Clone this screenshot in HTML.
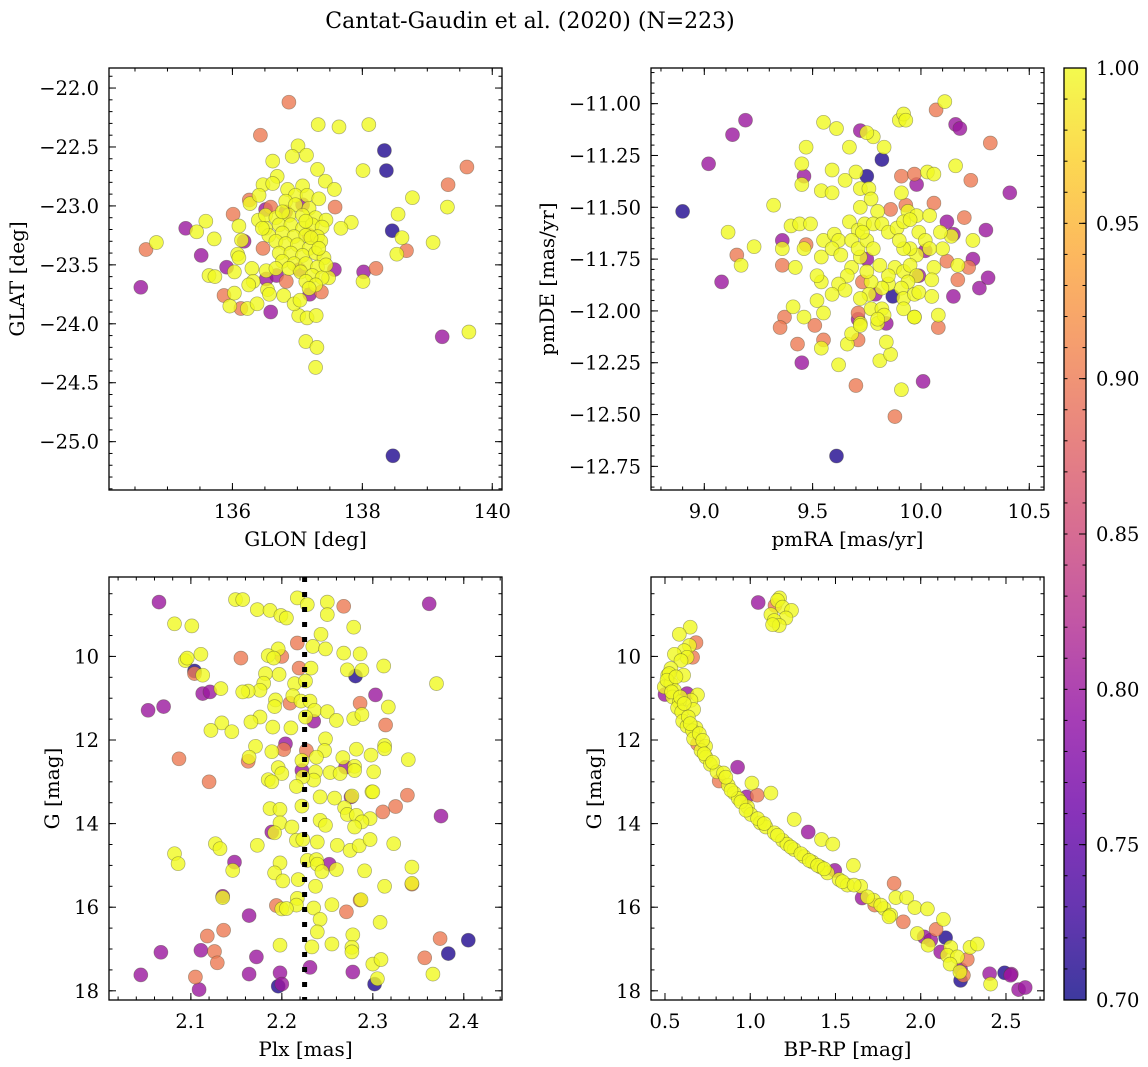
<!DOCTYPE html>
<html><head><meta charset="utf-8"><title>Cantat-Gaudin et al. (2020)</title>
<style>
html,body{margin:0;padding:0;background:#fff;}
svg{display:block;font-family:"DejaVu Serif","Liberation Serif",serif;}
</style></head>
<body>
<svg id="chart" width="1148" height="1067" viewBox="0 0 1148 1067" xmlns="http://www.w3.org/2000/svg">
<defs>
<linearGradient id="plasma" x1="0" y1="1" x2="0" y2="0">
<stop offset="0" stop-color="#0d0887"/><stop offset="0.1" stop-color="#41049d"/><stop offset="0.2" stop-color="#6a00a8"/><stop offset="0.3" stop-color="#8f0da4"/><stop offset="0.4" stop-color="#b12a90"/><stop offset="0.5" stop-color="#cc4778"/><stop offset="0.6" stop-color="#e16462"/><stop offset="0.7" stop-color="#f2844b"/><stop offset="0.8" stop-color="#fca636"/><stop offset="0.9" stop-color="#fcce25"/><stop offset="1" stop-color="#f0f921"/>
</linearGradient>
</defs>
<text x="530" y="28" font-size="22" text-anchor="middle">Cantat-Gaudin et al. (2020) (N=223)</text>
</svg>
<script>
// ---------- Panel 1: GLON / GLAT ----------
const p1Lon=[136.87,137.32,137.64,138.10,136.43,138.34,138.37,139.61,139.32,138.01,138.77,139.31,138.55,138.46,138.61,139.09,138.68,138.53,138.21,138.02,138.01,134.67,134.83,135.28,135.59,135.45,135.52,135.72,134.59,139.23,139.64,138.47,137.13,137.30,137.28,136.59,136.01,135.91,135.87,135.64,135.73,135.96,136.13,136.23,136.38,136.03,137.19,137.37,137.02,137.15,137.29,136.79,136.95,137.04,137.57,137.48,137.58,137.83,137.67,137.43,137.57,137.31,137.01,137.14,136.92,136.62,136.69,136.47,136.62,136.26,136.27,136.41,136.59,136.40,136.10,136.18,136.14,136.08,136.10,136.03,136.30,136.32,136.25,136.47,136.52,136.68,136.52,136.54,136.57,136.83,137.08,136.51,136.82,137.18,137.03,
136.85,137.08,136.97,137.15,137.33,136.82,136.97,137.18,136.51,136.67,136.87,137.08,137.28,137.44,136.51,136.72,136.90,137.08,137.23,137.38,136.56,136.77,136.95,137.13,137.31,136.67,136.82,137.00,137.18,137.36,136.72,136.90,137.08,137.28,137.41,136.77,136.95,137.13,137.31,136.67,136.87,137.05,137.23,137.38,137.13,137.28,136.46,136.77,137.21,137.13,137.33,137.44,137.18];
const p1Lat=[-22.12,-22.31,-22.33,-22.31,-22.40,-22.53,-22.70,-22.67,-22.82,-22.70,-22.93,-23.01,-23.07,-23.21,-23.27,-23.31,-23.38,-23.41,-23.53,-23.56,-23.64,-23.37,-23.31,-23.19,-23.13,-23.22,-23.42,-23.28,-23.69,-24.11,-24.07,-25.12,-24.15,-24.20,-24.37,-23.90,-23.07,-23.52,-23.76,-23.59,-23.60,-23.85,-23.87,-23.87,-23.83,-23.74,-23.75,-23.73,-23.93,-23.95,-23.93,-23.76,-23.83,-23.80,-23.54,-23.61,-23.01,-23.14,-23.19,-22.79,-22.86,-22.69,-22.49,-22.57,-22.58,-22.62,-22.75,-22.82,-22.81,-22.95,-22.98,-22.91,-23.01,-23.12,-23.17,-23.30,-23.29,-23.41,-23.44,-23.56,-23.53,-23.64,-23.67,-23.36,-23.62,-23.59,-23.55,-23.71,-23.75,-23.64,-22.99,-23.03,-23.05,-23.25,-23.54,
-22.86,-22.83,-22.91,-22.91,-22.94,-22.96,-22.99,-23.02,-23.08,-23.10,-23.08,-23.08,-23.10,-23.12,-23.19,-23.16,-23.16,-23.19,-23.16,-23.18,-23.25,-23.23,-23.26,-23.25,-23.26,-23.30,-23.32,-23.33,-23.36,-23.30,-23.40,-23.40,-23.42,-23.40,-23.44,-23.47,-23.49,-23.49,-23.52,-23.53,-23.53,-23.56,-23.59,-23.61,-23.64,-23.67,-23.19,-23.05,-23.27,-23.13,-23.36,-23.50,-23.70];
const p1Prob=[0.9,1,1,1,0.9,0.71,0.71,0.9,0.9,1,1,1,1,0.71,1,1,0.9,1,0.9,0.8,1,0.9,1,0.8,1,1,0.8,1,0.8,0.8,1,0.71,1,1,1,0.8,0.9,0.8,0.9,1,1,1,0.9,1,1,1,0.8,0.9,1,1,1,1,1,1,0.8,1,0.9,1,1,1,1,1,1,1,1,1,1,1,1,0.9,1,1,0.9,1,1,0.8,1,1,1,1,1,1,1,0.9,0.8,0.8,1,1,1,0.9,0.8,0.8,0.8,0.9,0.8,
1,1,1,1,1,1,1,1,1,1,1,1,1,1,1,1,1,1,1,1,1,1,1,1,1,1,1,1,1,1,1,1,1,1,1,1,1,1,1,1,1,1,1,1,1,1,1,1,1,1,1,1,1];
const p1XTicks=[136,138,140];
const p1YTicks=[-22.0,-22.5,-23.0,-23.5,-24.0,-24.5,-25.0];

// ---------- Panel 2: pmRA / pmDE ----------
const p2Ra=[8.90,9.02,9.13,9.19,9.08,9.11,9.15,9.17,9.23,9.32,9.36,9.36,9.36,9.42,9.40,9.44,9.49,9.47,9.46,9.41,9.37,9.35,9.46,9.51,9.43,9.45,9.55,9.54,9.62,9.70,9.61,9.88,9.91,10.01,9.81,9.86,9.84,9.66,9.68,9.71,9.71,9.72,9.80,9.84,9.97,10.08,10.08,10.15,10.17,10.27,10.31,10.22,10.24,10.24,10.30,10.20,10.12,10.15,10.14,10.09,10.10,10.12,10.17,10.41,10.23,10.16,10.06,10.03,10.06,10.32,10.16,10.18,10.07,10.11,9.90,9.92,9.93,9.82,9.83,9.78,9.75,9.72,9.67,9.55,9.61,9.47,9.45,9.46,9.45,9.59,9.65,9.70,9.75,9.54,9.59,9.72,9.76,9.77,9.72,9.86,9.91,9.97,9.98,9.91,9.93,9.80,9.94,9.98,10.04,9.87,
9.67,9.71,9.74,9.78,9.82,9.85,9.89,9.92,9.95,9.99,10.02,10.04,10.06,10.05,9.98,9.95,9.92,9.90,9.88,9.92,9.95,9.98,9.94,9.91,9.92,9.97,9.99,10.05,9.92,9.97,9.85,9.85,9.82,9.77,9.76,9.72,9.77,9.82,9.83,9.80,9.72,9.75,9.68,9.66,9.62,9.65,9.59,9.52,9.55,9.54,9.52,9.54,9.55,9.60,9.62,9.59,9.63,9.72,9.68,9.71,9.75,9.78,9.81,9.73,
9.75,9.73,9.79,9.99,10.02,9.71];
const p2De=[-11.52,-11.29,-11.15,-11.08,-11.86,-11.62,-11.73,-11.78,-11.69,-11.49,-11.66,-11.70,-11.78,-11.79,-11.59,-11.58,-11.58,-11.68,-11.70,-11.98,-12.03,-12.08,-12.03,-12.07,-12.16,-12.25,-12.14,-12.18,-12.26,-12.36,-12.70,-12.51,-12.38,-12.34,-12.24,-12.21,-12.15,-12.16,-12.11,-12.14,-12.01,-12.06,-12.06,-12.06,-12.03,-12.02,-12.08,-11.93,-11.85,-11.89,-11.84,-11.79,-11.75,-11.66,-11.61,-11.55,-11.57,-11.63,-11.64,-11.62,-11.70,-11.76,-11.78,-11.43,-11.37,-11.30,-11.48,-11.33,-11.34,-11.19,-11.10,-11.12,-11.03,-10.99,-11.08,-11.05,-11.08,-11.27,-11.21,-11.16,-11.14,-11.13,-11.21,-11.09,-11.12,-11.21,-11.29,-11.35,-11.39,-11.32,-11.37,-11.33,-11.35,-11.42,-11.43,-11.41,-11.41,-11.46,-11.50,-11.51,-11.35,-11.34,-11.39,-11.43,-11.49,-11.52,-11.52,-11.54,-11.54,-11.93,
-11.57,-11.61,-11.58,-11.58,-11.58,-11.62,-11.60,-11.57,-11.56,-11.62,-11.66,-11.70,-11.79,-11.85,-11.73,-11.70,-11.70,-11.66,-11.79,-11.81,-11.78,-11.83,-11.86,-11.89,-11.94,-11.92,-11.91,-11.93,-11.99,-12.03,-11.87,-11.83,-11.89,-11.86,-11.92,-11.94,-11.99,-11.99,-12.02,-12.04,-12.07,-11.81,-11.79,-11.83,-11.87,-11.90,-11.92,-11.95,-12.01,-11.86,-11.83,-11.74,-11.66,-11.63,-11.66,-11.70,-11.73,-11.74,-11.66,-11.70,-11.66,-11.70,-11.78,-11.62,
-11.75,-11.86,-11.92,-11.83,-11.71,-12.04];
const p2Prob=[0.71,0.8,0.8,0.8,0.8,1,0.9,1,1,1,0.8,1,0.9,1,1,1,1,0.9,1,1,0.9,0.9,1,0.9,0.9,0.8,0.9,1,1,0.9,0.71,0.9,1,0.8,1,1,1,1,1,0.9,0.9,1,1,0.8,1,1,0.9,0.8,0.9,0.8,0.8,0.9,0.8,1,0.8,0.9,0.8,0.8,1,1,1,0.9,1,0.8,0.9,1,0.9,1,1,0.9,0.8,0.8,0.9,1,1,1,1,0.71,1,1,1,0.8,1,1,1,1,1,0.8,1,1,1,1,0.71,1,1,1,1,1,1,0.9,0.9,0.9,0.8,1,0.9,1,1,1,1,0.71,
1,1,1,1,1,1,1,1,1,1,1,1,1,1,1,1,1,1,1,1,1,1,1,1,1,1,1,1,1,1,1,1,1,1,1,1,1,1,1,1,1,1,1,1,1,1,1,1,1,1,1,1,1,1,1,1,1,1,1,1,1,1,1,1,
0.8,0.9,0.8,0.8,0.8,0.8];
const p2XTicks=[9.0,9.5,10.0,10.5];
const p2YTicks=[-11.00,-11.25,-11.50,-11.75,-12.00,-12.25,-12.50,-12.75];

// ---------- Panel 3: Plx / G ----------
const p3Plx=[2.065,2.149,2.157,2.173,2.187,2.199,2.205,2.217,2.228,2.250,2.250,2.268,2.362,2.082,2.101,2.279,2.243,2.217,2.234,2.248,2.268,2.286,2.196,2.185,2.200,2.191,2.155,2.094,2.096,2.111,2.104,2.104,2.113,2.219,2.232,2.272,2.281,2.288,2.312,2.370,2.182,2.197,2.214,2.226,2.180,2.176,2.163,2.157,2.133,2.113,2.121,2.053,2.070,2.303,2.193,2.192,2.209,2.212,2.221,2.231,2.236,2.250,2.260,2.286,2.317,2.279,2.288,2.314,2.235,2.226,2.210,2.190,2.176,2.166,2.134,2.122,2.145,2.248,2.204,2.202,2.227,2.171,2.189,2.222,2.164,2.163,2.087,2.247,2.238,2.267,2.282,2.298,2.313,2.313,2.339,2.270,2.280,2.280,2.301,2.222,2.237,2.235,2.223,2.196,2.200,2.185,2.189,2.253,2.264,2.120,2.216,2.242,2.258,2.276,2.277,2.299,2.300,2.311,2.325,2.338,2.375,2.187,2.198,2.222,2.269,2.272,2.282,2.297,2.288,2.280,2.242,2.248,2.198,2.189,2.192,2.211,2.216,2.223,2.239,2.261,2.275,2.285,2.297,2.323,2.127,2.132,2.173,2.082,2.086,2.148,2.146,2.198,2.192,2.201,2.228,2.238,2.239,2.244,2.252,2.260,2.291,2.343,2.343,2.343,2.237,2.218,2.313,2.135,2.135,2.217,2.216,2.194,2.200,2.205,2.235,2.255,2.271,2.286,2.287,2.164,2.242,2.239,2.278,2.308,2.136,2.118,2.067,2.111,2.126,2.129,2.172,2.198,2.233,2.255,2.277,2.277,2.300,2.309,2.357,2.374,2.383,2.405,2.045,2.105,2.109,2.164,2.198,2.196,2.200,2.231,2.278,2.305,2.302,2.366];
const p3G=[8.70,8.64,8.64,8.88,8.90,9.02,9.08,8.60,8.76,8.70,9.00,8.80,8.74,9.22,9.27,9.30,9.47,9.68,9.76,9.82,9.92,9.94,9.82,9.98,10.00,10.04,10.04,10.10,10.04,9.95,10.35,10.41,10.45,10.28,10.28,10.32,10.47,10.33,10.23,10.65,10.41,10.43,10.65,10.59,10.64,10.81,10.83,10.85,10.77,10.89,10.85,11.29,11.20,10.92,11.04,11.20,11.12,10.94,11.07,11.07,11.29,11.32,11.53,11.12,11.21,11.49,11.39,11.64,11.55,11.45,11.71,11.69,11.45,11.57,11.59,11.77,11.80,11.97,12.09,12.23,12.25,12.15,12.28,12.49,12.41,12.51,12.45,12.25,12.41,12.42,12.22,12.36,12.13,12.21,12.47,12.65,12.63,12.73,12.76,12.73,12.76,12.96,12.88,12.66,12.80,12.95,13.00,12.78,12.80,13.00,13.11,13.36,13.39,13.36,13.34,13.24,13.24,13.72,13.59,13.32,13.82,13.64,13.66,13.58,13.62,13.78,13.80,13.88,13.96,14.08,13.92,14.04,13.98,14.20,14.22,14.08,14.40,14.38,14.44,14.52,14.64,14.53,14.38,14.48,14.48,14.60,14.52,14.72,14.96,14.92,15.12,14.94,15.18,15.37,14.88,14.86,14.97,15.15,14.97,15.10,15.13,15.04,15.43,15.45,15.50,15.34,15.50,15.77,15.74,15.79,15.95,15.96,16.04,16.03,16.02,15.94,16.11,15.83,15.82,16.20,16.29,16.59,16.66,16.36,16.55,16.69,17.08,17.03,17.06,17.33,17.19,16.91,16.95,16.88,16.96,17.07,17.36,17.25,17.21,16.75,17.11,16.79,17.62,17.67,17.97,17.60,17.57,17.89,17.84,17.44,17.55,17.71,17.84,17.60];
const p3Prob=[0.8,1,1,1,1,1,1,1,1,1,1,0.9,0.8,1,1,1,1,0.9,1,1,1,1,1,1,0.9,1,0.9,1,1,1,0.71,0.9,1,0.9,1,1,0.71,1,1,1,1,1,1,1,1,1,1,1,1,0.8,0.8,0.8,0.8,0.8,1,1,0.9,1,1,1,1,1,1,0.9,1,1,1,0.9,0.8,1,1,1,1,1,1,1,1,1,0.8,0.9,0.9,1,1,1,1,0.9,0.9,1,1,1,1,1,1,1,1,0.8,1,1,1,0.8,1,1,1,1,1,1,1,1,1,0.9,1,1,1,0.8,1,1,1,0.9,0.9,0.9,0.8,1,1,1,1,1,1,1,1,1,1,1,1,0.8,1,1,1,1,1,1,1,1,1,1,1,1,1,1,1,0.8,1,1,1,1,1,1,1,1,0.8,1,1,1,1,0.9,1,1,1,1,0.8,1,1,0.9,1,1,1,1,0.9,0.9,1,0.8,1,1,1,1,0.9,0.9,0.8,0.8,0.9,0.9,0.8,1,1,1,1,1,1,1,0.9,0.9,0.71,0.71,0.8,0.9,0.8,0.8,0.8,0.71,0.8,0.8,0.8,1,0.71,1,0.8];
const p3XTicks=[2.1,2.2,2.3,2.4];
const p3YTicks=[10,12,14,16,18];
const p3MeanPlx=[2.225];

// ---------- Panel 4: BP-RP / G ----------
const p4Color=[1.047,1.172,1.160,1.189,1.242,1.209,1.121,1.141,1.170,1.131,1.145,0.648,0.584,0.682,0.643,0.613,0.662,0.629,0.555,0.594,0.535,0.516,0.609,0.496,0.535,0.555,0.500,0.545,0.629,0.691,0.652,0.584,0.574,0.598,0.668,0.604,0.629,0.682,0.662,0.668,0.691,0.738,0.711,0.740,0.766,0.805,0.844,0.926,0.818,0.871,0.906,0.930,0.979,1.010,1.041,1.121,0.984,1.004,1.059,1.092,1.141,1.189,1.215,1.258,1.340,1.418,1.484,1.258,1.316,1.365,1.414,1.453,1.496,1.521,1.570,1.605,1.648,1.656,1.723,1.730,1.785,1.824,1.844,1.854,1.918,1.965,2.039,1.898,1.980,2.020,2.059,2.043,2.133,2.090,2.146,2.176,2.117,2.156,2.215,2.273,2.289,2.332,2.172,2.234,2.250,2.234,2.230,2.404,2.410,2.492,2.531,2.527,2.574,2.613,
0.525,0.512,0.564,0.539,0.590,0.613,0.637,0.648,0.701,0.721,0.730,0.779,0.857,0.887,0.945,0.975,1.043,1.082,1.160,1.238,1.297,1.346,1.395,1.434,1.541,1.609,1.688,1.766,1.814];
const p4G=[8.71,8.60,8.66,8.82,8.90,9.08,9.00,9.14,9.26,9.24,8.78,9.30,9.47,9.67,9.74,9.86,10.02,10.02,9.95,10.10,10.29,10.45,10.45,10.73,10.65,10.81,10.91,10.97,10.89,10.92,11.05,11.09,11.23,11.33,11.27,11.55,11.67,11.71,11.78,11.97,12.09,12.15,12.25,12.41,12.58,12.76,12.79,12.65,12.98,13.08,13.27,13.40,13.36,13.03,13.32,13.27,13.60,13.78,13.98,14.08,14.22,14.40,14.49,13.90,14.20,14.38,14.49,14.62,14.79,14.92,15.04,15.18,15.12,15.34,15.47,15.00,15.50,15.78,15.83,15.95,16.03,16.19,15.43,15.77,15.77,16.01,16.04,16.35,16.63,16.71,16.79,16.91,16.29,16.53,16.73,16.96,17.07,17.15,17.19,17.25,16.96,16.88,17.36,17.49,17.63,17.75,17.55,17.59,17.84,17.57,17.60,17.63,17.97,17.92,
10.41,10.57,10.49,10.85,10.97,11.13,11.45,11.61,11.85,12.01,12.33,12.53,12.89,13.20,13.48,13.68,13.88,14.00,14.28,14.56,14.72,14.88,15.00,15.08,15.39,15.47,15.75,15.95,16.23];
const p4Prob=[0.8,1,1,1,1,1,1,1,1,1,0.9,1,1,0.9,1,1,0.9,1,1,1,1,1,1,1,1,1,0.8,1,0.8,1,1,1,1,1,1,1,1,1,1,1,0.9,1,1,1,1,1,1,0.8,0.9,1,1,1,0.8,1,0.9,1,1,1,1,1,1,1,1,1,0.8,1,1,1,1,1,1,1,0.8,1,1,1,1,0.8,1,0.9,1,1,0.9,1,1,1,1,0.9,1,0.8,0.8,1,1,0.9,0.71,1,0.8,1,1,0.9,1,1,1,0.8,0.9,0.71,1,0.8,1,0.71,0.8,0.8,0.8,0.8,
1,1,1,1,1,1,1,1,1,1,1,1,1,1,1,1,1,1,1,1,1,1,1,1,1,1,1,1,1];
const p4XTicks=[0.5,1.0,1.5,2.0,2.5];
const p4YTicks=[10,12,14,16,18];

// ---------- Colorbar ----------
const cbTicks=[0.70,0.75,0.80,0.85,0.90,0.95,1.00];
const cbMin=0.70, cbMax=1.00;

// ---------- Rendering ----------
const NS='http://www.w3.org/2000/svg';
const svg=document.getElementById('chart');
const TICK_FS=19.5, LABEL_FS=20;
function mk(tag,parent,attrs){const e=document.createElementNS(NS,tag);for(const k in attrs)e.setAttribute(k,attrs[k]);parent.appendChild(e);return e;}
const stops=[[13,8,135],[65,4,157],[106,0,168],[143,13,164],[177,42,144],[204,71,120],[225,100,98],[242,132,75],[252,166,54],[252,206,37],[240,249,33]];
function plasma(p){let t=(p-cbMin)/(cbMax-cbMin);t=Math.max(0,Math.min(1,t))*10;const i=Math.min(9,Math.floor(t)),f=t-i;const a=stops[i],b=stops[i+1];return 'rgb('+a.map((v,k)=>Math.round(v+(b[k]-v)*f)).join(',')+')';}
function fmt(v,d){const s=Math.abs(v).toFixed(d);return v<0?'\u2212'+s:s;}

function panel(cfg){
  const g=mk('g',svg,{});
  
  
  const {L,R,T,B,x0,x1,y0,y1}=cfg;
  const sx=v=>L+(v-x0)/(x1-x0)*(R-L);
  const sy=v=>T+(v-y0)/(y1-y0)*(B-T);
  const n=Math.min(cfg.xs.length,cfg.ys.length,cfg.ps.length);
  const idx=[];for(let i=0;i<n;i++)idx.push(i);
  idx.sort((a,b)=>cfg.ps[a]-cfg.ps[b]);
  const clip='clip-'+cfg.name;
  const cp=mk('clipPath',g,{id:clip});mk('rect',cp,{x:L,y:T,width:R-L,height:B-T});
  const pg=mk('g',g,{'clip-path':'url(#'+clip+')'});
  for(const i of idx){
    const c=mk('circle',pg,{cx:sx(cfg.xs[i]).toFixed(1),cy:sy(cfg.ys[i]).toFixed(1),r:7,fill:plasma(cfg.ps[i]),'fill-opacity':0.8,stroke:'#4a4a30','stroke-opacity':0.45,'stroke-width':0.7});
    
    
  }
  if(cfg.vline){for(const v of cfg.vline){
    const l=mk('line',g,{x1:sx(v),x2:sx(v),y1:T,y2:B,stroke:'#000','stroke-width':5,'stroke-dasharray':'5 10'});
    
    
  }}
  const fr=mk('rect',g,{x:L,y:T,width:R-L,height:B-T,fill:'none',stroke:'#000','stroke-width':1.3});
  
  
  const tk=mk('g',g,{stroke:'#000','stroke-width':1});
  const xa=Math.min(x0,x1),xb=Math.max(x0,x1),ya=Math.min(y0,y1),yb=Math.max(y0,y1);
  for(let k=Math.ceil(xa/cfg.xMinor-1e-6);k*cfg.xMinor<=xb+1e-9;k++){const X=sx(k*cfg.xMinor);mk('line',tk,{x1:X,x2:X,y1:B,y2:B-3.5});mk('line',tk,{x1:X,x2:X,y1:T,y2:T+3.5});}
  for(let k=Math.ceil(ya/cfg.yMinor-1e-6);k*cfg.yMinor<=yb+1e-9;k++){const Y=sy(k*cfg.yMinor);mk('line',tk,{x1:L,x2:L+3.5,y1:Y,y2:Y});mk('line',tk,{x1:R,x2:R-3.5,y1:Y,y2:Y});}
  for(const v of cfg.xTicks){const X=sx(v);mk('line',tk,{x1:X,x2:X,y1:B,y2:B-7});mk('line',tk,{x1:X,x2:X,y1:T,y2:T+7});
    const t=mk('text',g,{x:X,y:B+28,'font-size':TICK_FS,'text-anchor':'middle'});t.textContent=fmt(v,cfg.xDec);
    
    }
  for(const v of cfg.yTicks){const Y=sy(v);mk('line',tk,{x1:L,x2:L+7,y1:Y,y2:Y});mk('line',tk,{x1:R,x2:R-7,y1:Y,y2:Y});
    const t=mk('text',g,{x:L-10,y:Y+7,'font-size':TICK_FS,'text-anchor':'end'});t.textContent=fmt(v,cfg.yDec);
    
    }
  const xl=mk('text',g,{x:(L+R)/2,y:B+56,'font-size':LABEL_FS,'text-anchor':'middle'});xl.textContent=cfg.xLabel;
  
  
  const cy=(T+B)/2;
  const yl=mk('text',g,{x:cfg.yLabelX,y:cy,'font-size':LABEL_FS,'text-anchor':'middle',transform:'rotate(-90 '+cfg.yLabelX+' '+cy+')'});yl.textContent=cfg.yLabel;
  
  
}

panel({name:'panel-sky-position',L:109,R:502,T:68,B:490,x0:134.10,x1:140.15,y0:-21.83,y1:-25.41,xs:p1Lon,ys:p1Lat,ps:p1Prob,xTicks:p1XTicks,yTicks:p1YTicks,xMinor:0.5,yMinor:0.1,xDec:0,yDec:1,xLabel:'GLON [deg]',yLabel:'GLAT [deg]',yLabelX:24});
panel({name:'panel-proper-motion',L:651,R:1044,T:68,B:490,x0:8.754,x1:10.568,y0:-10.828,y1:-12.864,xs:p2Ra,ys:p2De,ps:p2Prob,xTicks:p2XTicks,yTicks:p2YTicks,xMinor:0.1,yMinor:0.05,xDec:1,yDec:2,xLabel:'pmRA [mas/yr]',yLabel:'pmDE [mas/yr]',yLabelX:554});
panel({name:'panel-parallax-magnitude',L:109,R:502,T:577,B:1000,x0:2.010,x1:2.442,y0:8.10,y1:18.22,xs:p3Plx,ys:p3G,ps:p3Prob,xTicks:p3XTicks,yTicks:p3YTicks,xMinor:0.02,yMinor:0.5,xDec:1,yDec:0,xLabel:'Plx [mas]',yLabel:'G [mag]',yLabelX:59,vline:p3MeanPlx});
panel({name:'panel-color-magnitude',L:651,R:1044,T:577,B:1000,x0:0.418,x1:2.723,y0:8.10,y1:18.22,xs:p4Color,ys:p4G,ps:p4Prob,xTicks:p4XTicks,yTicks:p4YTicks,xMinor:0.1,yMinor:0.5,xDec:1,yDec:0,xLabel:'BP-RP [mag]',yLabel:'G [mag]',yLabelX:601});

// colorbar
(function(){
  const L=1064,R=1086,T=68,B=1000;
  const g=mk('g',svg,{});
  
  
  mk('rect',g,{x:L,y:T,width:R-L,height:B-T,fill:'url(#plasma)','fill-opacity':0.8});
  mk('rect',g,{x:L,y:T,width:R-L,height:B-T,fill:'none',stroke:'#000','stroke-width':1.3});
  const sy=v=>B-(v-cbMin)/(cbMax-cbMin)*(B-T);
  for(let k=Math.round(cbMin*100);k<=Math.round(cbMax*100);k++){const Y=sy(k/100);mk('line',g,{x1:R,x2:R-3.5,y1:Y,y2:Y,stroke:'#000','stroke-width':1});mk('line',g,{x1:L,x2:L+3.5,y1:Y,y2:Y,stroke:'#000','stroke-width':1});}
  for(const v of cbTicks){const Y=sy(v);mk('line',g,{x1:R,x2:R-7,y1:Y,y2:Y,stroke:'#000','stroke-width':1});
    const t=mk('text',g,{x:R+10,y:Y+7,'font-size':TICK_FS});t.textContent=v.toFixed(2);
    
    }
})();
</script>
</body></html>
